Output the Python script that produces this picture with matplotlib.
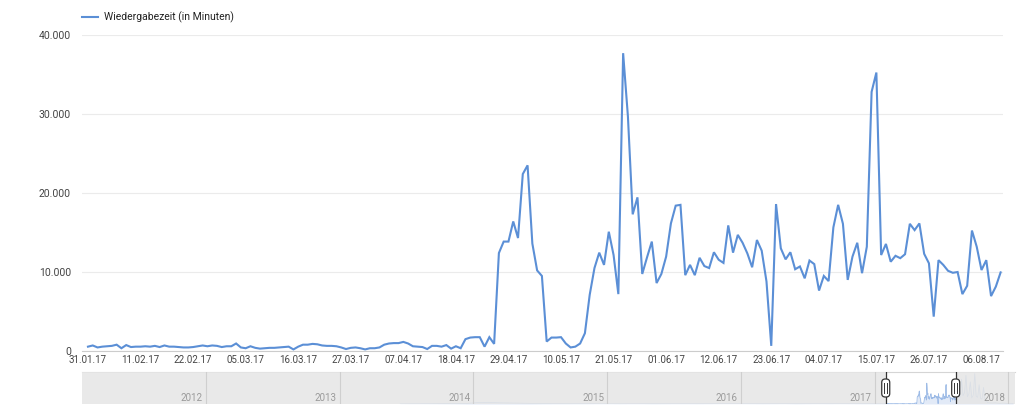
import numpy as np
import matplotlib
matplotlib.use('Agg')
import matplotlib.pyplot as plt
import matplotlib.dates as mdates
from matplotlib.ticker import FuncFormatter
from matplotlib.lines import Line2D
from matplotlib.patches import FancyBboxPatch
from matplotlib.transforms import IdentityTransform, blended_transform_factory

plt.rcParams['font.family'] = ['Roboto', 'DejaVu Sans']

# daily watch time (minutes), 31.01.17 .. 10.08.17
start_date = np.datetime64('2017-01-31')
watch_minutes = [
    550, 700, 450, 550, 600, 650, 800, 350, 750, 500,
    550, 550, 600, 550, 650, 500, 700, 550, 550, 500,
    450, 450, 500, 600, 700, 600, 700, 650, 500, 600,
    600, 950, 450, 350, 600, 400, 300, 350, 400, 400,
    450, 500, 550, 200, 550, 800, 800, 900, 850, 700,
    650, 650, 600, 450, 250, 400, 450, 350, 200, 350,
    350, 450, 800, 950, 1000, 1000, 1150, 950, 600, 550,
    500, 250, 650, 650, 550, 750, 300, 600, 350, 1500,
    1700, 1750, 1750, 550, 1750, 900, 12400, 13850, 13850, 16400,
    14300, 22400, 23500, 13600, 10200, 9500, 1200, 1700, 1700, 1750,
    950, 450, 550, 950, 2250, 7100, 10500, 12450, 10900, 15100,
    12150, 7200, 37700, 29700, 17300, 19450, 9750, 11850, 13850, 8600,
    9750, 11950, 16150, 18400, 18500, 9600, 10900, 9600, 11800, 10750,
    10500, 12500, 11550, 11150, 15900, 12450, 14700, 13700, 12350, 10600,
    14050, 12700, 8800, 650, 18600, 13000, 11600, 12500, 10350, 10700,
    9200, 11450, 11000, 7650, 9500, 8850, 15650, 18500, 16100, 9000,
    11950, 13700, 9850, 13200, 32800, 35250, 12150, 13550, 11300, 12050,
    11750, 12250, 16100, 15300, 16150, 12300, 11100, 4350, 11500, 10900,
    10150, 9900, 10000, 7200, 8250, 15250, 13200, 10250, 11500, 6950,
    8150, 9950,
]
y_ticks = [0, 10000, 20000, 30000, 40000]
tick_step_days = 11
legend_label = 'Wiedergabezeit (in Minuten)'

# navigator (range selector) history
nav_monthly_start = np.datetime64('2013-06-15')
nav_monthly = [
    200, 300, 300, 400, 500, 600, 900,
    2500, 3000, 2200, 1800, 1200, 900, 700, 600, 600, 500, 500, 400,
    400, 500, 400, 400, 600, 500, 400, 400, 500, 400, 300, 300,
    300, 400, 500, 400, 300, 600, 400, 300, 400, 300, 400, 500,
    500,
]
nav_after_start = np.datetime64('2017-08-14')
nav_after = [14000, 30000, 12000, 45000, 15000, 20000, 52000, 13000, 18000, 40000,
             11000, 16000, 55000, 14000, 12000, 35000, 10000, 9000, 30000, 8000, 6000]
nav_tail_start = np.datetime64('2017-11-05')
nav_tail = [2500, 2000, 1800, 2200, 1500, 1200, 1800, 1400, 1000, 1200, 900]
nav_years = [2012, 2013, 2014, 2015, 2016, 2017, 2018]

W, H = 1024, 417


def fx(px):
    return px / W


def fy(py):
    return 1 - py / H


line_color = '#5b8fd6'
fig = plt.figure(figsize=(W / 100, H / 100), dpi=100, facecolor='white')

# ---- main chart ----
days = start_date + np.arange(len(watch_minutes))
ax = fig.add_axes([fx(82), fy(351), fx(1003) - fx(82), fy(35) - fy(351)])
ax.plot(days, watch_minutes, color=line_color, lw=1.5, solid_joinstyle='miter')
ax.set_ylim(0, 40000)
ax.set_xlim(days[0] - np.timedelta64(30, 'h'), days[-1] + np.timedelta64(12, 'h'))
ax.set_yticks(y_ticks)
ax.yaxis.set_major_formatter(FuncFormatter(lambda v, p: f'{int(v):,}'.replace(',', '.')))
tick_dates = start_date + np.arange(0, len(watch_minutes), tick_step_days)
ax.set_xticks(tick_dates)
ax.xaxis.set_major_formatter(mdates.DateFormatter('%d.%m.%y'))
ax.grid(axis='y', color='#ebebeb', lw=0.8)
ax.set_axisbelow(True)
for s in ['top', 'right', 'left']:
    ax.spines[s].set_visible(False)
ax.spines['bottom'].set_color('#cccccc')
ax.tick_params(length=0, colors='#444444')
ax.tick_params(axis='y', pad=8, labelsize=7.5)
ax.tick_params(axis='x', pad=3, labelsize=7)

# legend
fig.add_artist(Line2D([fx(82), fx(98)], [fy(17), fy(17)], color=line_color, lw=1.5))
fig.text(fx(104), fy(17), legend_label, va='center', ha='left', fontsize=7.5, color='#222222')

# ---- navigator ----
nav = fig.add_axes([fx(82), fy(404), fx(1015) - fx(82), fy(372) - fy(404)])
nav_lo, nav_hi = np.datetime64('2011-01-28'), np.datetime64('2018-01-19')
nav.set_xlim(nav_lo, nav_hi)
nav.set_ylim(0, 58000)

nav_x = np.concatenate([
    nav_monthly_start + np.arange(len(nav_monthly)) * np.timedelta64(30, 'D'),
    days,
    nav_after_start + np.arange(len(nav_after)) * np.timedelta64(4, 'D'),
    nav_tail_start + np.arange(len(nav_tail)) * np.timedelta64(7, 'D'),
])
nav_y = np.concatenate([nav_monthly, watch_minutes, nav_after, nav_tail])
nav.fill_between(nav_x, nav_y, color='#c6d7f0', alpha=0.5, lw=0)
nav.plot(nav_x, nav_y, color='#9dbbe6', lw=0.6)

sel_lo, sel_hi = days[0], days[-1]
nav.axvspan(nav_lo, sel_lo, color='#e6e6e6', alpha=0.85, lw=0, zorder=3)
nav.axvspan(sel_hi, nav_hi, color='#e6e6e6', alpha=0.85, lw=0, zorder=3)

trans = blended_transform_factory(nav.transData, nav.transAxes)
for yr in nav_years:
    d = np.datetime64(f'{yr}-01-01')
    nav.axvline(d, color='#cfcfcf', lw=0.8, zorder=4)
    nav.text(d - np.timedelta64(8, 'D'), 0.2, str(yr), transform=trans,
             ha='right', va='center', fontsize=7, color='#9a9a9a', zorder=5)

for s in nav.spines.values():
    s.set_visible(False)
nav.spines['top'].set_visible(True)
nav.spines['top'].set_color('#d5d5d5')
nav.set_xticks([])
nav.set_yticks([])

# handles
for sel in (sel_lo, sel_hi):
    nav.axvline(sel, color='#333333', lw=0.9, zorder=6)
    xd = nav.transData.transform((mdates.date2num(sel), 0))[0]
    yc = nav.transAxes.transform((0, 0.5))[1]
    fig.add_artist(FancyBboxPatch((xd - 4, yc - 9), 8, 18,
                                  boxstyle='round,pad=0,rounding_size=3.5',
                                  transform=IdentityTransform(),
                                  fc='white', ec='#333333', lw=0.9, zorder=7))
    for dx in (-1.3, 1.3):
        fig.add_artist(Line2D([xd + dx, xd + dx], [yc - 5, yc + 5],
                              transform=IdentityTransform(), color='#333333',
                              lw=0.7, zorder=8))

fig.savefig('out.png', dpi=100, facecolor='white')
